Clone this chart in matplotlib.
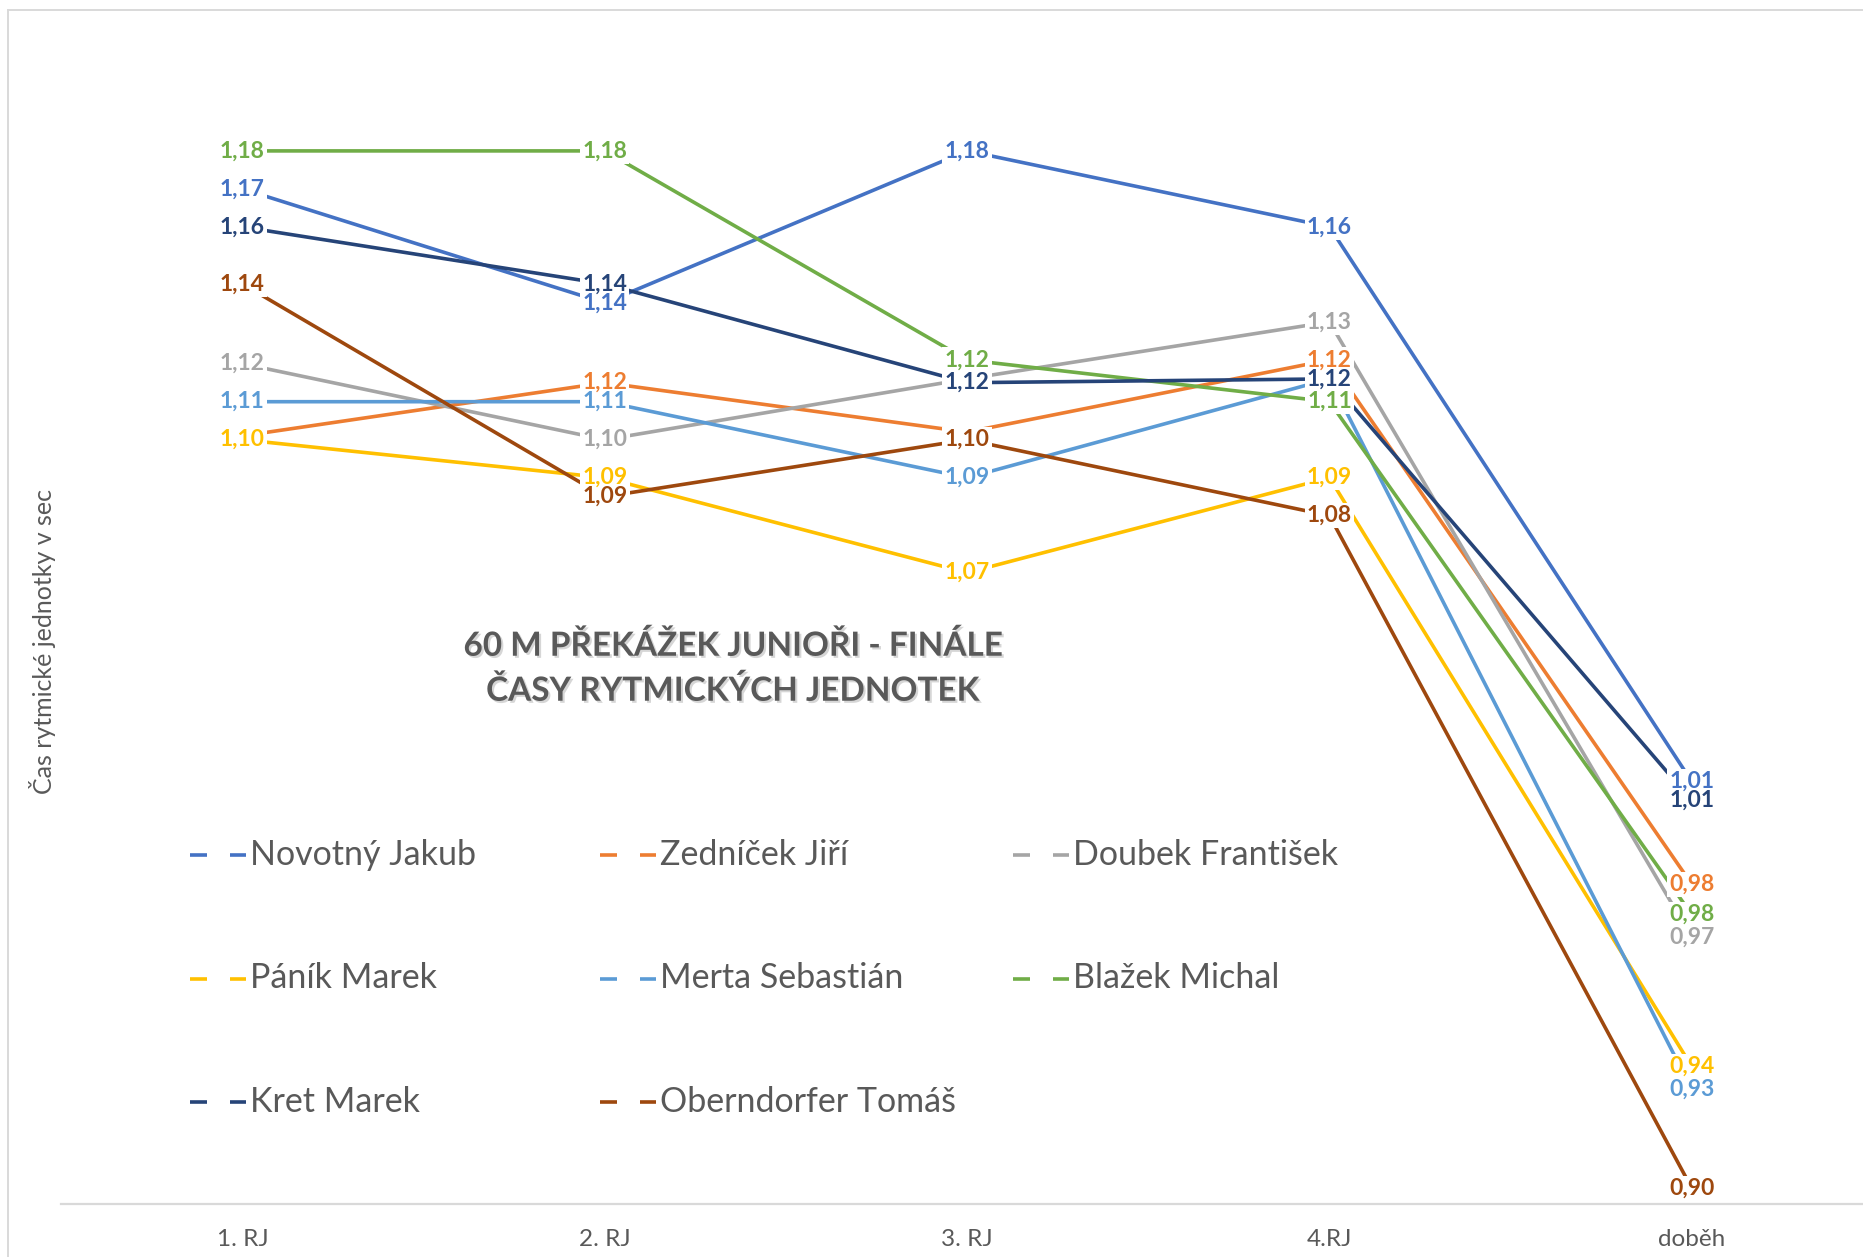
import matplotlib
matplotlib.use("Agg")
import matplotlib.pyplot as plt
from matplotlib.lines import Line2D
import matplotlib.patheffects as pe

plt.rcParams['font.family'] = ['Lato', 'DejaVu Sans']

categories = ["1. RJ", "2. RJ", "3. RJ", "4.RJ", "doběh"]
series_names = ["Novotný Jakub", "Zedníček Jiří", "Doubek František",
                "Páník Marek", "Merta Sebastián", "Blažek Michal",
                "Kret Marek", "Oberndorfer Tomáš"]
novotny = [1.167, 1.137, 1.177, 1.157, 1.011]
zednicek = [1.102, 1.116, 1.103, 1.122, 0.984]
doubek = [1.121, 1.101, 1.117, 1.132, 0.970]
panik = [1.101, 1.091, 1.066, 1.091, 0.936]
merta = [1.111, 1.111, 1.091, 1.117, 0.930]
blazek = [1.177, 1.177, 1.122, 1.111, 0.976]
kret = [1.157, 1.142, 1.116, 1.117, 1.006]
oberndorfer = [1.142, 1.086, 1.101, 1.081, 0.904]
series_values = [novotny, zednicek, doubek, panik, merta, blazek, kret, oberndorfer]
colors = ["#4472C4", "#ED7D31", "#A5A5A5", "#FFC000",
          "#5B9BD5", "#70AD47", "#264478", "#9E480E"]

title_lines = "60 M PŘEKÁŽEK JUNIOŘI - FINÁLE\nČASY RYTMICKÝCH JEDNOTEK"
ylabel = "Čas rytmické jednotky v sec"

W, H = 1863, 1257
fig = plt.figure(figsize=(W / 100, H / 100), dpi=100)
fig.patch.set_facecolor("white")

# chart border (left + top)
fig.add_artist(Line2D([8 / W, 8 / W], [0, 1 - 9.5 / H], transform=fig.transFigure,
                      color="#d9d9d9", lw=1.4))
fig.add_artist(Line2D([8 / W, 1], [1 - 9.5 / H, 1 - 9.5 / H], transform=fig.transFigure,
                      color="#d9d9d9", lw=1.4))

left_px, right_px = 61.2, 61.2 + 1811.8
top_px, bot_px = 63.5, 1203.5
ax = fig.add_axes([left_px / W, 1 - bot_px / H, (right_px - left_px) / W, (bot_px - top_px) / H])
ax.set_facecolor("none")
ax.set_xlim(-0.5, 4.5)
ax.set_ylim(0.90, 1.20)
x = list(range(len(categories)))

for i, (vals, col) in enumerate(zip(series_values, colors)):
    ax.plot(x, vals, color=col, lw=2.6, solid_capstyle="butt", zorder=3 + i * 0.01)

# data labels; a label lying under a later series' label (as in the original) is hidden
for i, (vals, col) in enumerate(zip(series_values, colors)):
    for j, (xi, v) in enumerate(zip(x, vals)):
        covered = any(abs(series_values[k][j] - v) < 0.0035
                      for k in range(i + 1, len(series_values)))
        if covered:
            continue
        lab = f"{v:.2f}".replace(".", ",")
        # white box under the label (drawn below all label texts)
        ax.text(xi, v, lab, ha="center", va="center", fontsize=16.5,
                fontweight="bold", color="none", zorder=8,
                bbox=dict(boxstyle="square,pad=0.1", fc="white", ec="none"))
        ax.text(xi, v, lab, ha="center", va="center", fontsize=16.5,
                fontweight="bold", color=col, zorder=20 + i)

for s in ["top", "left", "right"]:
    ax.spines[s].set_visible(False)
ax.spines["bottom"].set_color("#d9d9d9")
ax.spines["bottom"].set_linewidth(1.6)
ax.set_yticks([])
ax.set_xticks(x)
ax.set_xticklabels(categories, fontsize=17.5, color="#595959")
ax.tick_params(axis="x", length=0, pad=18)

# y label
fig.text(43 / W, 1 - 642 / H, ylabel, rotation=90, ha="center", va="center",
         fontsize=18, color="#595959")

# title
fig.text(733 / W, 1 - 668 / H, title_lines, ha="center", va="center",
         fontsize=24, fontweight="bold", color="#595959", linespacing=1.6,
         path_effects=[pe.SimplePatchShadow(offset=(1.5, -1.5), shadow_rgbFace="#bbbbbb", alpha=0.6),
                       pe.Normal()])

# legend (Excel-style, 3 columns)
text_x = [250, 660, 1073]
row_y = [855, 978.5, 1102]
for k, (name, col) in enumerate(zip(series_names, colors)):
    r, c = divmod(k, 3)
    tx, ty = text_x[c], row_y[r]
    yf = 1 - ty / H
    for a, b in [(tx - 60, tx - 43), (tx - 20, tx - 4)]:
        fig.add_artist(Line2D([a / W, b / W], [yf, yf], transform=fig.transFigure,
                              color=col, lw=2.6, solid_capstyle="butt"))
    fig.text(tx / W, yf, name, ha="left", va="center", fontsize=24.5, color="#595959")

fig.savefig("out.png", dpi=100, facecolor="white")
